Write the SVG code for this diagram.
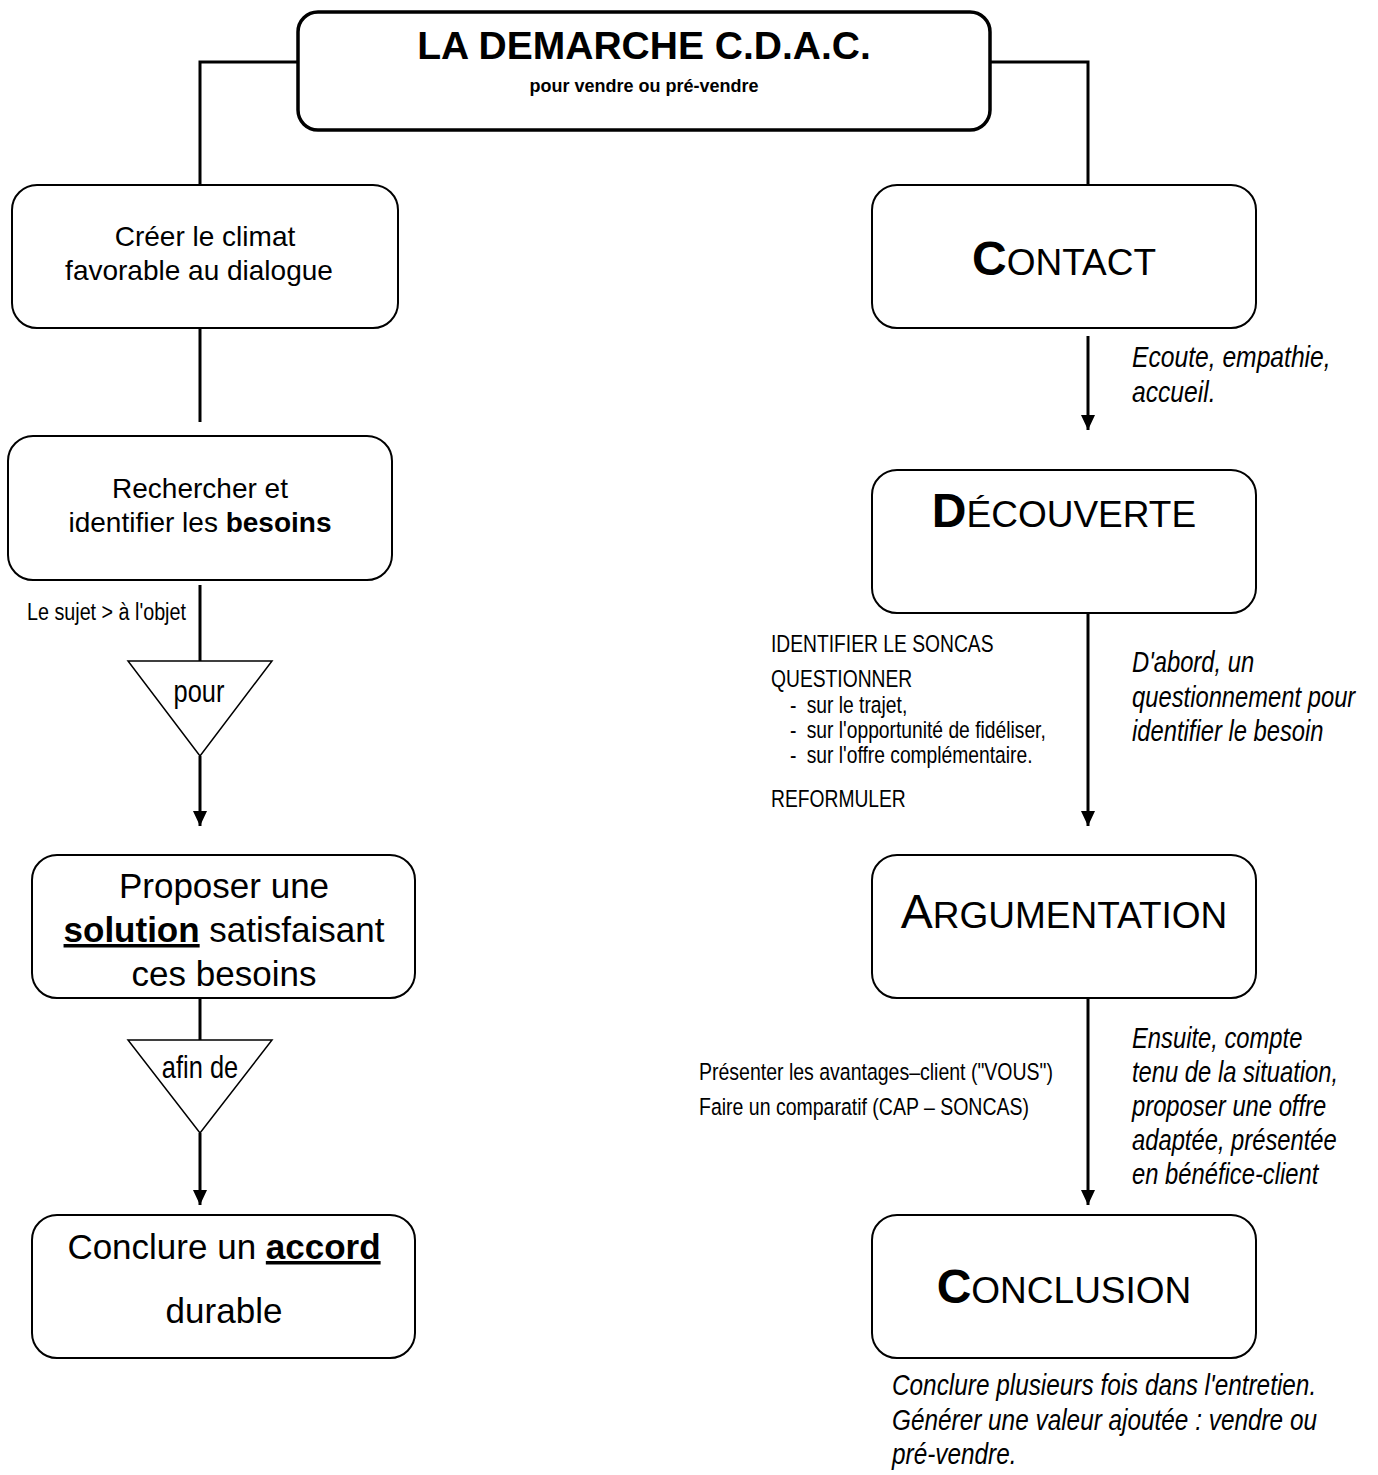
<svg xmlns="http://www.w3.org/2000/svg" width="1378" height="1475" viewBox="0 0 1378 1475">
<defs>
<marker id="arrow" markerUnits="userSpaceOnUse" viewBox="0 0 15 14" refX="15" refY="7" markerWidth="15" markerHeight="14" orient="auto">
<path d="M0,0 L15,7 L0,14 z" fill="#000"/>
</marker>
<style>
text{font-family:"Liberation Sans",Arial,sans-serif;fill:#000}
.box{fill:#fff;stroke:#000;stroke-width:2}
.tbox{fill:#fff;stroke:#000;stroke-width:3.5}
.tri{fill:#fff;stroke:#000;stroke-width:1.5}
.ln{fill:none;stroke:#000;stroke-width:3}
.c{text-anchor:middle}
.b{font-weight:bold}
.i{font-style:italic;font-size:29px}
.s{font-size:23.5px}
.big{font-size:48px}
.sc{font-size:37px}
.u{text-decoration:underline}
</style>
</defs>
<g id="connectors">
<path class="ln" d="M298,62 H200 V185"/>
<path class="ln" d="M990,62 H1088 V185"/>
<path class="ln" d="M200,328 V422"/>
<path class="ln" d="M200,585 V661"/>
<path class="ln" d="M200,756 V826" marker-end="url(#arrow)"/>
<path class="ln" d="M200,998 V1040"/>
<path class="ln" d="M200,1133 V1205" marker-end="url(#arrow)"/>
<path class="ln" d="M1088,336 V430" marker-end="url(#arrow)"/>
<path class="ln" d="M1088,586 V826" marker-end="url(#arrow)"/>
<path class="ln" d="M1088,980 V1205" marker-end="url(#arrow)"/>
</g>
<g id="title">
<rect class="tbox" x="298" y="12" width="692" height="118" rx="20"/>
<text class="c b" x="644" y="59" font-size="39">LA DEMARCHE C.D.A.C.</text>
<text class="c b" x="644" y="92" font-size="18">pour vendre ou pré-vendre</text>
</g>
<g id="creer">
<rect class="box" x="12" y="185" width="386" height="143" rx="25"/>
<text class="c" x="205" y="246" font-size="28">Créer le climat</text>
<text class="c" x="199" y="280" font-size="28">favorable au dialogue</text>
</g>
<g id="rechercher">
<rect class="box" x="8" y="436" width="384" height="144" rx="25"/>
<text class="c" x="200" y="498" font-size="28">Rechercher et</text>
<text class="c" x="200" y="532" font-size="28">identifier les <tspan class="b">besoins</tspan></text>
</g>
<text class="s" transform="translate(27,620) scale(0.84,1)">Le sujet &gt; à l'objet</text>
<g id="pour">
<polygon class="tri" points="128,661 272,661 200,756"/>
<text class="c" transform="translate(199,702) scale(0.82,1)" font-size="31">pour</text>
</g>
<g id="proposer">
<rect class="box" x="32" y="855" width="383" height="143" rx="25"/>
<text class="c" x="224" y="898" font-size="35">Proposer une</text>
<text class="c" x="224" y="942" font-size="35"><tspan class="b u">solution</tspan> satisfaisant</text>
<text class="c" x="224" y="986" font-size="35">ces besoins</text>
</g>
<g id="afin">
<polygon class="tri" points="128,1040 272,1040 200,1133"/>
<text class="c" transform="translate(200,1078) scale(0.82,1)" font-size="31">afin de</text>
</g>
<g id="conclure">
<rect class="box" x="32" y="1215" width="383" height="143" rx="25"/>
<text class="c" x="224" y="1259" font-size="35">Conclure un <tspan class="b u">accord</tspan></text>
<text class="c" x="224" y="1323" font-size="35">durable</text>
</g>
<g id="contact">
<rect class="box" x="872" y="185" width="384" height="143" rx="25"/>
<text class="c" x="1064" y="275"><tspan class="b big">C</tspan><tspan class="sc">ONTACT</tspan></text>
</g>
<text class="i" transform="translate(1132,367) scale(0.85,1)">Ecoute, empathie,</text>
<text class="i" transform="translate(1132,402) scale(0.85,1)">accueil.</text>
<g id="decouverte">
<rect class="box" x="872" y="470" width="384" height="143" rx="25"/>
<text class="c" x="1064" y="527"><tspan class="b big">D</tspan><tspan class="sc">ÉCOUVERTE</tspan></text>
</g>
<g class="s">
<text transform="translate(771,652) scale(0.82,1)">IDENTIFIER LE SONCAS</text>
<text transform="translate(771,687) scale(0.82,1)">QUESTIONNER</text>
<text transform="translate(790,713) scale(0.82,1)">-  <tspan dx="6">sur le trajet,</tspan></text>
<text transform="translate(790,738) scale(0.82,1)">-  <tspan dx="6">sur l'opportunité de fidéliser,</tspan></text>
<text transform="translate(790,763) scale(0.82,1)">-  <tspan dx="6">sur l'offre complémentaire.</tspan></text>
<text transform="translate(771,807) scale(0.82,1)">REFORMULER</text>
</g>
<text class="i" transform="translate(1132,672) scale(0.82,1)">D'abord, un</text>
<text class="i" transform="translate(1132,707) scale(0.82,1)">questionnement pour</text>
<text class="i" transform="translate(1132,741) scale(0.82,1)">identifier le besoin</text>
<g id="argumentation">
<rect class="box" x="872" y="855" width="384" height="143" rx="25"/>
<text class="c" x="1064" y="928"><tspan class="big">A</tspan><tspan class="sc">RGUMENTATION</tspan></text>
</g>
<text class="s" transform="translate(699,1080) scale(0.83,1)">Présenter les avantages–client ("VOUS")</text>
<text class="s" transform="translate(699,1115) scale(0.83,1)">Faire un comparatif (CAP – SONCAS)</text>
<text class="i" transform="translate(1132,1048) scale(0.82,1)">Ensuite, compte</text>
<text class="i" transform="translate(1132,1082) scale(0.82,1)">tenu de la situation,</text>
<text class="i" transform="translate(1132,1116) scale(0.82,1)">proposer une offre</text>
<text class="i" transform="translate(1132,1150) scale(0.82,1)">adaptée, présentée</text>
<text class="i" transform="translate(1132,1184) scale(0.82,1)">en bénéfice-client</text>
<g id="conclusion">
<rect class="box" x="872" y="1215" width="384" height="143" rx="25"/>
<text class="c" x="1064" y="1303"><tspan class="b big">C</tspan><tspan class="sc">ONCLUSION</tspan></text>
</g>
<text class="i" transform="translate(892,1395) scale(0.84,1)" font-size="31">Conclure plusieurs fois dans l'entretien.</text>
<text class="i" transform="translate(892,1430) scale(0.84,1)" font-size="31">Générer une valeur ajoutée : vendre ou</text>
<text class="i" transform="translate(892,1464) scale(0.84,1)" font-size="31">pré-vendre.</text>
</svg>
